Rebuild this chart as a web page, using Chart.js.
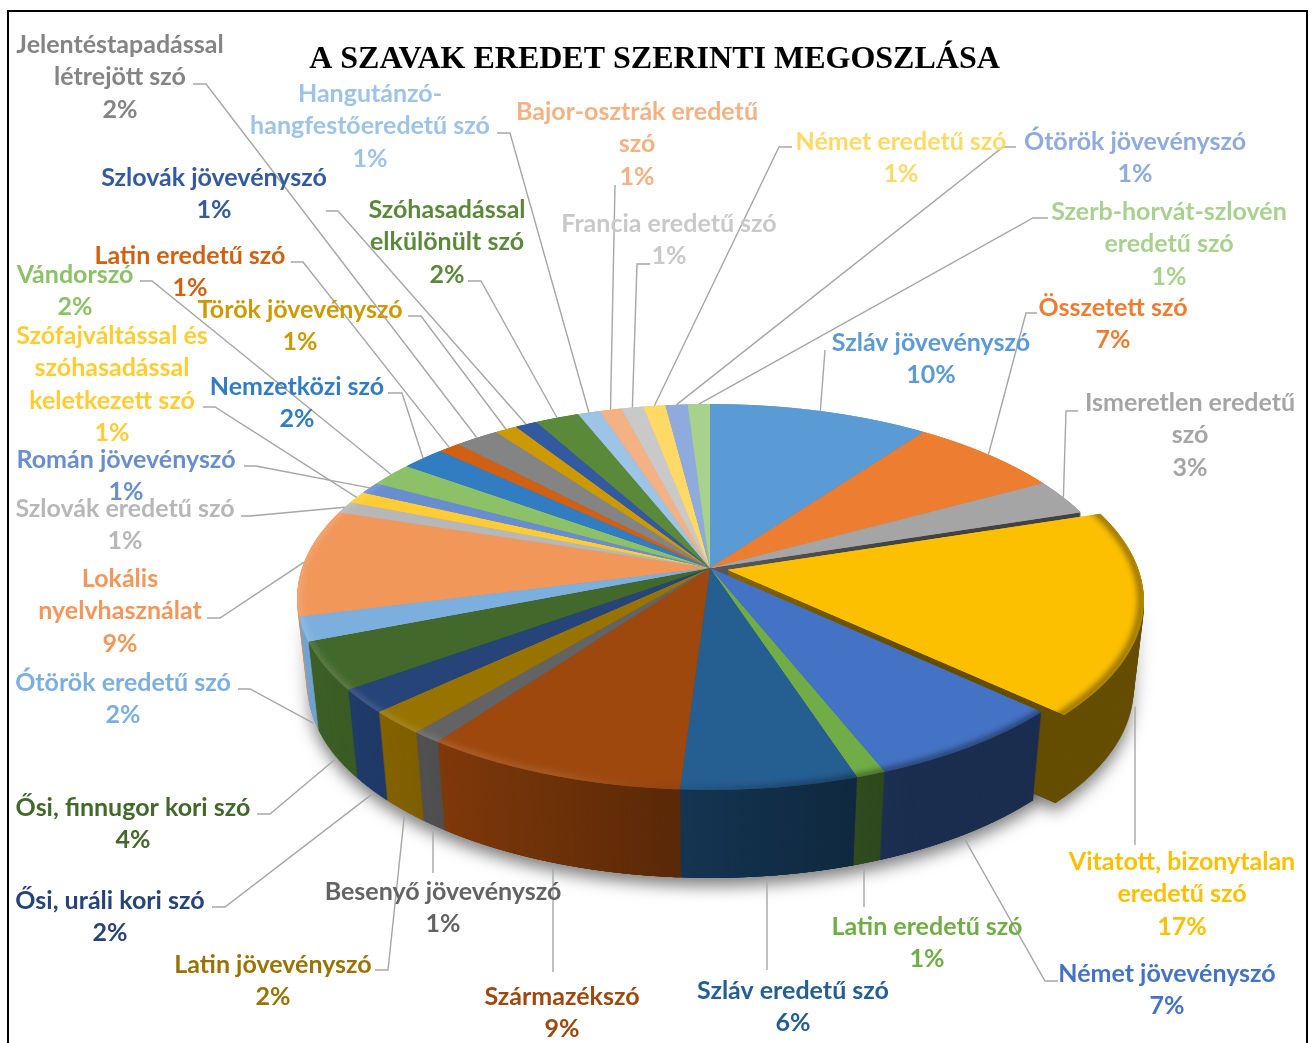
<!DOCTYPE html>
<html>
<head>
<meta charset="utf-8">
<title>A szavak eredet szerinti megoszlása</title>
<script src="https://cdn.jsdelivr.net/npm/chart.js@4"></script>
<style>
    html, body { margin: 0; background: #fff; overflow: hidden; width: 1314px; height: 1043px; }
    #frame { position: absolute; left: 7px; top: 10px; width: 1297px; height: 1060px; border: 2px solid #000; }
    #pie { position: absolute; left: 0; top: 0; }
</style>
</head>
<body>
<div id="frame"></div>
<canvas id="pie" width="1309" height="1043"></canvas>
<script>
// Slices, clockwise from 12 o'clock ("\n" is a line break in the label)
const categories = [
    'Szláv jövevényszó', 'Összetett szó', 'Ismeretlen eredetű\nszó', 'Vitatott, bizonytalan\neredetű szó',
    'Német jövevényszó', 'Latin eredetű szó', 'Szláv eredetű szó', 'Származékszó', 'Besenyő jövevényszó',
    'Latin jövevényszó', 'Ősi, uráli kori szó', 'Ősi, finnugor kori szó', 'Ótörök eredetű szó',
    'Lokális\nnyelvhasználat', 'Szlovák eredetű szó', 'Szófajváltással és\nszóhasadással\nkeletkezett szó',
    'Román jövevényszó', 'Vándorszó', 'Nemzetközi szó', 'Latin eredetű szó', 'Jelentéstapadással\nlétrejött szó',
    'Török jövevényszó', 'Szlovák jövevényszó', 'Szóhasadással\nelkülönült szó', 'Hangutánzó-\nhangfestőeredetű szó',
    'Bajor-osztrák eredetű\nszó', 'Francia eredetű szó', 'Német eredetű szó', 'Ótörök jövevényszó',
    'Szerb-horvát-szlovén\neredetű szó'
];
const percents = [10, 7, 3, 17, 7, 1, 6, 9, 1, 2, 2, 4, 2, 9, 1, 1, 1, 2, 2, 1, 2, 1, 1, 2, 1, 1, 1, 1, 1, 1];
const sliceColors = [
    '#5B9BD5', '#ED7D31', '#A5A5A5', '#FCC000', '#4472C4', '#70AD47', '#255E91', '#9E480E', '#636363', '#997300',
    '#264478', '#43682B', '#7CAFDD', '#F1975A', '#B7B7B7', '#FFCD33', '#698ED0', '#8CC168', '#327DC2', '#D26012',
    '#848484', '#CC9A00', '#335AA1', '#5A8A39', '#9DC3E6', '#F4B183', '#C9C9C9', '#FFD966', '#8FAADC', '#A9D18E'
];
const chartTitle = 'A SZAVAK EREDET SZERINTI MEGOSZLÁSA';

// Where the data labels sit: centre x, centre y of the first line
const labelSpots = [
    [931, 342], [1113, 307], [1190, 402], [1182, 861], [1167, 973], [927, 926], [793, 990], [562, 996],
    [443, 891], [273, 964], [110, 900], [133, 807], [123, 682], [120, 578], [125, 508], [112, 335],
    [126, 459], [75, 274], [297, 386], [190, 255], [120, 44], [300, 309], [214, 177], [447, 209],
    [370, 93], [637, 111], [669, 223], [901, 141], [1135, 141], [1169, 211]
];
// Leader line: start next to the text, then the elbow (the far end comes from the slice itself)
const leaderStarts = [
    [825, 350, 825, 350], [1037, 313, 1026, 313], [1078, 411, 1066, 411], [1135, 845, 1135, 845],
    [1058, 981, 1045, 981], [864, 907, 864, 907], [767, 970, 767, 970], [553, 972, 553, 972],
    [433, 873, 433, 873], [375, 970, 388, 970], [212, 907, 225, 907], [257, 814, 270, 814],
    [238, 689, 250, 689], [207, 618, 220, 618], [241, 516, 250, 516], [203, 407, 215, 407],
    [244, 466, 256, 466], [140, 281, 152, 281], [388, 393, 402, 393], [291, 262, 303, 262],
    [193, 84, 206, 84], [408, 316, 421, 316], [326, 211, 338, 211], [468, 281, 481, 281],
    [497, 133, 510, 133], [615, 185, 615, 185], [650, 264, 637, 264], [792, 147, 779, 147],
    [1016, 147, 1003, 147], [1048, 218, 1033, 218]
];

const EXPLODED = 3;      // the Vitatott slice is pulled out
const FRONT = [4, 5, 6, 7, 8, 9, 10, 11, 12];

// Perspective of the tilted pie: hub on screen, half axes at the hub, foreshortening, thickness
const HUB_X = 710, HUB_Y = 568, AXIS_X = 408, AXIS_Y = 188.6, PERSP = 0.15, DEPTH = 88;
const TAPER = 0.025;     // the underside is this much narrower than the top

// Unit disc (X right, Y away from the viewer) to screen
function project(X, Y) {
    const den = 1 + PERSP * Y;
    return [HUB_X + AXIS_X * X / den, HUB_Y - AXIS_Y * Y / den];
}

function newLayer(w, h) {
    const c = document.createElement('canvas');
    c.width = w;
    c.height = h;
    return c;
}

// Paints the library's arc elements row by row, each row with its own scale, which gives the perspective
function paintArcs(layer, arcs, pick) {
    const c = layer.getContext('2d');
    const cx = arcs[0].x, cy = arcs[0].y, R = arcs[0].outerRadius;
    for (let row = 395; row < 810; row++) {
        const d = HUB_Y - (row + 0.5);
        const Y = d / (AXIS_Y - PERSP * d);
        const dY = AXIS_Y / Math.pow(AXIS_Y - PERSP * d, 2);
        const sx = AXIS_X / (1 + PERSP * Y) / R;
        const sy = 1 / (R * dY);
        c.save();
        c.beginPath();
        c.rect(0, row, layer.width, 1);
        c.clip();
        c.setTransform(sx, 0, 0, sy, HUB_X - cx * sx, row + 0.5 - (cy - R * Y) * sy);
        arcs.forEach((arc, i) => {
            if (pick(i)) {
                // twice, so the seams between slices do not show white
                arc.draw(c);
                arc.draw(c);
            }
        });
        c.restore();
    }
}

// Side wall: the surface copied downwards and slightly narrower, then darker towards the right
function makeWall(surface) {
    const wall = newLayer(surface.width, surface.height);
    const c = wall.getContext('2d');
    for (let d = DEPTH; d >= 1; d--) {
        const s = 1 - TAPER * d / DEPTH;
        c.setTransform(s, 0, 0, 1, HUB_X * (1 - s), d);
        c.drawImage(surface, 0, 0);
    }
    c.setTransform(1, 0, 0, 1, 0, 0);
    const shade = c.createLinearGradient(300, 0, 1140, 0);
    shade.addColorStop(0, 'rgba(0,0,0,0.05)');
    shade.addColorStop(0.17, 'rgba(0,0,0,0.2)');
    shade.addColorStop(0.45, 'rgba(0,0,0,0.43)');
    shade.addColorStop(0.55, 'rgba(0,0,0,0.5)');
    shade.addColorStop(0.72, 'rgba(0,0,0,0.6)');
    shade.addColorStop(1, 'rgba(0,0,0,0.6)');
    c.globalCompositeOperation = 'source-atop';
    c.fillStyle = shade;
    c.fillRect(0, 0, wall.width, wall.height);
    return wall;
}

// Soft bevel along the front rim of a surface
function addBevel(surface, fromDeg, ox, oy) {
    const c = surface.getContext('2d');
    const glow = c.createLinearGradient(300, 0, 1140, 0);
    glow.addColorStop(0, 'rgba(255,255,255,0.18)');
    glow.addColorStop(0.3, 'rgba(255,255,255,0.12)');
    glow.addColorStop(0.45, 'rgba(0,0,0,0.1)');
    glow.addColorStop(0.7, 'rgba(0,0,0,0.5)');
    glow.addColorStop(1, 'rgba(0,0,0,0.5)');
    c.save();
    c.globalCompositeOperation = 'source-atop';
    c.filter = 'blur(3px)';
    c.strokeStyle = glow;
    c.lineWidth = 6;
    c.beginPath();
    for (let deg = fromDeg; deg <= 300; deg += 2) {
        const t = deg * Math.PI / 180;
        const p = project(Math.sin(t) + ox, Math.cos(t) + oy);
        if (deg === fromDeg) c.moveTo(p[0], p[1]);
        else c.lineTo(p[0], p[1]);
    }
    c.stroke();
    c.restore();
}

// Drop shadow of the walls, fading out towards the back of the pie
function makeShadow(walls, w, h) {
    const layer = newLayer(w, h);
    const c = layer.getContext('2d');
    c.shadowColor = 'rgba(0,0,0,0.5)';
    c.shadowBlur = 16;
    c.shadowOffsetY = 8;
    walls.forEach(wall => c.drawImage(wall, 0, 0));
    c.shadowColor = 'transparent';
    const fade = c.createLinearGradient(0, 600, 0, 740);
    fade.addColorStop(0, 'rgba(0,0,0,1)');
    fade.addColorStop(1, 'rgba(0,0,0,0)');
    c.globalCompositeOperation = 'destination-out';
    c.fillStyle = fade;
    c.fillRect(0, 0, w, 740);
    return layer;
}

// Leader lines and data labels
function drawLabels(ctx, arcs) {
    const R = arcs[0].outerRadius;
    ctx.save();
    ctx.lineWidth = 1.4;
    ctx.strokeStyle = '#A6A6A6';
    arcs.forEach((arc, i) => {
        const mid = (arc.startAngle + arc.endAngle) / 2;
        const shift = (arc.options.offset || 0) / 4 / R;
        const X = Math.cos(mid) * (1 + shift);
        const Y = -Math.sin(mid) * (1 + shift);
        const end = project(X, Y);
        const s = leaderStarts[i];
        if (Y < 0) {
            // front slices: the line stops under the wall
            end[0] = s[0] === s[2] ? s[0] : HUB_X + (end[0] - HUB_X) * (1 - TAPER);
            end[1] += DEPTH + 6;
        }
        ctx.beginPath();
        ctx.moveTo(s[0], s[1]);
        ctx.lineTo(s[2], s[3]);
        ctx.lineTo(end[0], end[1]);
        ctx.stroke();
    });

    ctx.font = 'bold 25px Lato';
    ctx.textAlign = 'center';
    ctx.textBaseline = 'middle';
    categories.forEach((name, i) => {
        const lines = name.split('\n').concat(percents[i] + '%');
        ctx.fillStyle = sliceColors[i];
        lines.forEach((line, n) => {
            ctx.fillText(line, labelSpots[i][0], labelSpots[i][1] + 1 + n * 32.3);
        });
    });
    ctx.restore();
}

const tiltedPie = {
    id: 'tiltedPie',
    beforeDatasetsDraw(chart) {
        const ctx = chart.ctx;
        const arcs = chart.getDatasetMeta(0).data;
        const w = chart.width, h = chart.height;
        const isFront = i => FRONT.includes(i);
        const isBack = i => i !== EXPLODED && !isFront(i);

        const layers = [isBack, i => i === EXPLODED, isFront].map(pick => {
            const layer = newLayer(w, h);
            paintArcs(layer, arcs, pick);
            return layer;
        });
        const topRest = newLayer(w, h);
        topRest.getContext('2d').drawImage(layers[0], 0, 0);
        topRest.getContext('2d').drawImage(layers[2], 0, 0);
        const topPulled = layers[1];

        const pulled = arcs[EXPLODED];
        const mid = (pulled.startAngle + pulled.endAngle) / 2;
        const shift = pulled.options.offset / 4 / pulled.outerRadius;

        // shadow first, walls back to front, tops last
        const walls = layers.map(makeWall);
        ctx.drawImage(makeShadow([walls[1], walls[2]], w, h), 0, 0);
        ctx.drawImage(walls[0], 0, 0);
        ctx.drawImage(walls[1], 0, 0);
        ctx.drawImage(walls[2], 0, 0);

        addBevel(topRest, 100, 0, 0);
        addBevel(topPulled, 60, Math.cos(mid) * shift, -Math.sin(mid) * shift);
        ctx.drawImage(topRest, 0, 0);
        ctx.drawImage(topPulled, 0, 0);

        drawLabels(ctx, arcs);
        return false;
    }
};

new Chart(document.getElementById('pie').getContext('2d'), {
    type: 'pie',
    data: {
        labels: categories,
        datasets: [{
            data: percents,
            backgroundColor: sliceColors,
            borderWidth: 0,
            offset: percents.map((v, i) => (i === EXPLODED ? 78 : 0))
        }]
    },
    options: {
        responsive: false,
        animation: false,
        events: [],
        plugins: {
            legend: { display: false },
            tooltip: { enabled: false },
            title: {
                display: true,
                text: chartTitle,
                color: '#000',
                font: { family: 'Liberation Serif', size: 32, weight: 'bold' },
                padding: { top: 41, bottom: 10 }
            }
        }
    },
    plugins: [tiltedPie]
});
</script>
</body>
</html>
